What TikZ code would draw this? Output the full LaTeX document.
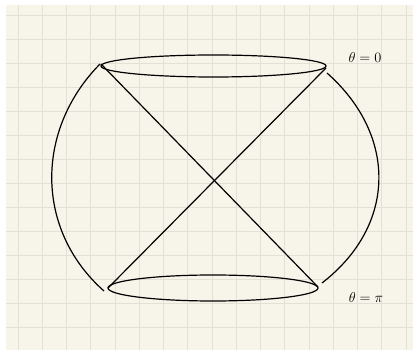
\documentclass[tikz,border=0pt]{standalone}
\usepackage{amsmath}
\definecolor{paper}{RGB}{247,245,233}
\definecolor{gridline}{RGB}{225,226,213}
\tikzset{
  curve/.style={line width=1.2pt, black},
  lbl/.style={font=\fontsize{14}{16}\selectfont, inner sep=1pt}
}
\begin{document}
\begin{tikzpicture}[x=1pt,y=-1pt]
            \useasboundingbox (0,0) rectangle (413,350);
            \fill[paper] (6,5) rectangle (413,350);
            \foreach \i in {0,...,16} \draw[gridline, line width=1pt] (18+24.25*\i,5) -- (18+24.25*\i,350);
            \foreach \j in {0,...,13} \draw[gridline, line width=1pt] (6,16+24*\j) -- (413,16+24*\j);
            % cap ellipses
            \draw[curve] (213.5,66) ellipse [x radius=112.5pt, y radius=11pt];
            \draw[curve] (213,288) ellipse [x radius=105pt, y radius=13pt];
            \coordinate (tl) at (101,64);
            \coordinate (tr) at (326,68);
            \coordinate (bl) at (108,288);
            \coordinate (br) at (318,287);
            \draw[curve] (tl) -- (br);
            \draw[curve] (tr) -- (bl);
            % side arcs
            \coordinate (la) at (100,64);
            \coordinate (lb) at (104,291);
            \coordinate (ra) at (327,73);
            \coordinate (rb) at (322,283);
            \draw[curve] (la) .. controls (35,130) and (35,230) .. (lb);
            \draw[curve] (ra) .. controls (397,135) and (397,225) .. (rb);
            \node[lbl] (top) at (365,58) {$\theta = 0$};
            \node[lbl] (bot) at (366,298) {$\theta = \pi$};
        \end{tikzpicture}
\end{document}
